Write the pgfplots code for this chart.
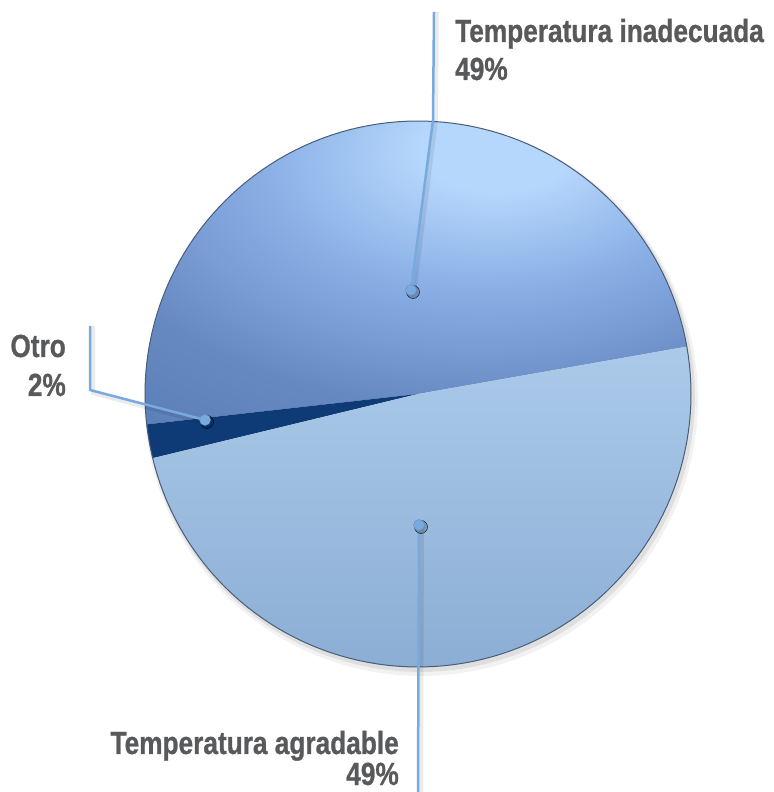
\documentclass[border=0pt]{standalone}
\usepackage{pgfplots}
\usepackage{pgfplotstable}
\pgfplotsset{compat=1.18}
\usepackage{fontspec}
\setmainfont{Liberation Sans}
\newfontfamily\lab[FakeStretch=0.82,FakeBold=0.8]{Liberation Sans}
\definecolor{txt}{HTML}{58595B}
\definecolor{lead}{HTML}{78AADF}
\definecolor{hl}{HTML}{B6D7FC}
\definecolor{midb}{HTML}{8AB0E6}
\definecolor{edgeb}{HTML}{6789C2}
\definecolor{darkb}{HTML}{5378B0}
\definecolor{lt}{HTML}{ABCAEA}
\definecolor{lb}{HTML}{8CAED4}
\definecolor{otro}{HTML}{0E3B76}
\definecolor{rim}{HTML}{4A5D78}
\pgfdeclareradialshading{topball}{\pgfpoint{8bp}{22bp}}{color(0bp)=(hl); color(7bp)=(hl); color(20bp)=(midb); color(36bp)=(edgeb); color(55bp)=(darkb); color(100bp)=(darkb)}
\begin{document}
\begin{tikzpicture}
\pgfplotstableread{
label value
inadecuada 49
otro 2
agradable 49
}\piedata
\pgfplotstablegetelem{0}{value}\of\piedata \let\vA\pgfplotsretval
\pgfplotstablegetelem{1}{value}\of\piedata \let\vB\pgfplotsretval
\pgfplotstablegetelem{2}{value}\of\piedata \let\vC\pgfplotsretval
\pgfmathsetmacro\aS{10}
\pgfmathsetmacro\aA{\aS+3.6*\vA}
\pgfmathsetmacro\aB{\aA+3.6*\vB}
\pgfmathsetmacro\aC{\aB+3.6*\vC}
\def\pX{418}\def\pY{398}\def\pR{273}
\begin{axis}[scale only axis, width=774bp, height=792bp,
  xmin=0, xmax=774, ymin=0, ymax=792, hide axis, clip=false]
% soft shadow
\addplot[draw=none, fill=black, fill opacity=0.05, domain=0:360, samples=120, variable=\t]
  ({\pX+3+(\pR+4)*cos(\t)},{\pY-5+(\pR+4)*sin(\t)});
\addplot[draw=none, fill=black, fill opacity=0.08, domain=0:360, samples=120, variable=\t]
  ({\pX+2+(\pR+2)*cos(\t)},{\pY-3+(\pR+2)*sin(\t)});
% slices
\addplot[draw=none, shade, shading=topball, domain=\aS:\aA, samples=100, variable=\t]
  ({\pX+\pR*cos(\t)},{\pY+\pR*sin(\t)}) -- (axis cs:\pX,\pY) -- cycle;
\addplot[draw=none, fill=otro, domain=\aA:\aB, samples=10, variable=\t]
  ({\pX+\pR*cos(\t)},{\pY+\pR*sin(\t)}) -- (axis cs:\pX,\pY) -- cycle;
\addplot[draw=none, top color=lt, bottom color=lb, domain=\aB:\aC, samples=100, variable=\t]
  ({\pX+\pR*cos(\t)},{\pY+\pR*sin(\t)}) -- (axis cs:\pX,\pY) -- cycle;
% rim
\addplot[draw=rim, line width=1bp, domain=0:360, samples=180, variable=\t]
  ({\pX+\pR*cos(\t)},{\pY+\pR*sin(\t)});
% leader line shadows
\addplot[black, opacity=0.08, line width=4bp, mark=none] coordinates {(437,780) (436,672) (414,500)};
\addplot[black, opacity=0.08, line width=4bp, mark=none] coordinates {(93,466) (93,399) (205,369)};
\addplot[black, opacity=0.08, line width=4bp, mark=none] coordinates {(422,265) (421,0)};
\addplot[only marks, mark=*, mark size=6.5bp, mark options={draw=none, fill=black, fill opacity=0.2}] coordinates {(413,500) (207,370) (421,265)};
% leader lines
\addplot[lead, line width=2.5bp, mark=none] coordinates {(434,780) (433,672) (411,502)};
\addplot[lead, line width=2.5bp, mark=none] coordinates {(90,466) (90,402) (205,372)};
\addplot[lead, line width=2.5bp, mark=none] coordinates {(419,267) (418,0)};
\addplot[only marks, mark=*, mark size=5.5bp, mark options={draw=lead!85!black, fill=lead}] coordinates {(411,502) (205,372) (419,267)};
% labels
\node[anchor=base west, inner sep=0, text=txt, font=\lab\bfseries\fontsize{32bp}{38bp}\selectfont] at (axis cs:455,750) {Temperatura inadecuada};
\node[anchor=base west, inner sep=0, text=txt, font=\lab\bfseries\fontsize{32bp}{38bp}\selectfont] at (axis cs:455,712) {49\%};
\node[anchor=base east, inner sep=0, text=txt, font=\lab\bfseries\fontsize{32bp}{38bp}\selectfont] at (axis cs:66,435) {Otro};
\node[anchor=base east, inner sep=0, text=txt, font=\lab\bfseries\fontsize{32bp}{38bp}\selectfont] at (axis cs:66,396) {2\%};
\node[anchor=base east, inner sep=0, text=txt, font=\lab\bfseries\fontsize{32bp}{38bp}\selectfont] at (axis cs:399,38) {Temperatura agradable};
\node[anchor=base east, inner sep=0, text=txt, font=\lab\bfseries\fontsize{32bp}{38bp}\selectfont] at (axis cs:399,7) {49\%};
\end{axis}
\pgfresetboundingbox
\path (current axis.south west) rectangle (current axis.north east);
\end{tikzpicture}
\end{document}
